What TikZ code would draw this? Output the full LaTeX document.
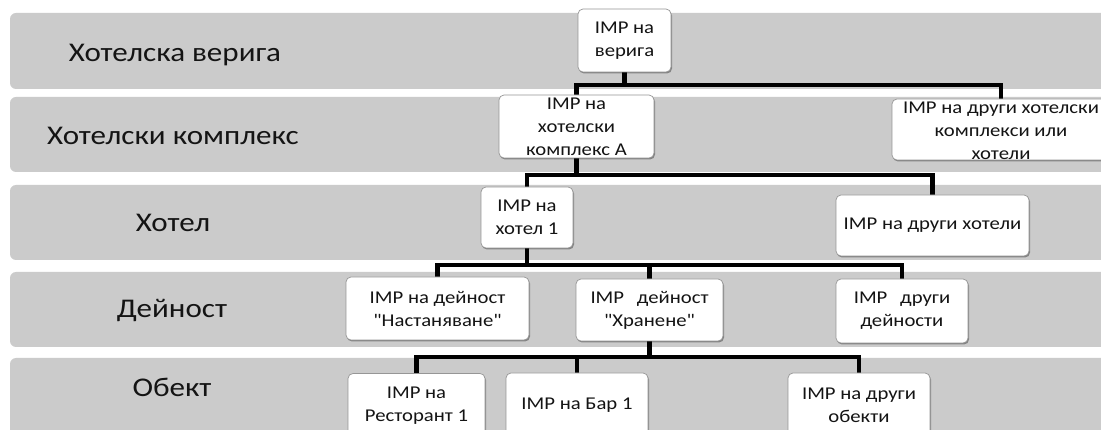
\documentclass[tikz,border=0pt]{standalone}
\usepackage{fontspec}
\setmainfont{Carlito}[FakeStretch=1.15]
\newfontfamily\cf{Carlito}[FakeStretch=1.15]
\usetikzlibrary{shadows}
\definecolor{bandgray}{RGB}{203,203,203}
\definecolor{boxline}{RGB}{150,150,150}
\definecolor{txt}{RGB}{20,20,20}
\pgfdeclarelayer{bands}
\pgfdeclarelayer{lines}
\pgfsetlayers{bands,lines,main}
\begin{document}
\begin{tikzpicture}[x=1pt,y=-1pt,
  band/.style={fill=bandgray, rounded corners=6pt},
  lbl/.style={anchor=base, font=\cf\fontsize{27}{32}\selectfont, text=txt, inner sep=0pt},
  boxtext/.style={align=center, font=\cf\fontsize{18}{23}\selectfont, text=txt, inner sep=0pt},
  imp/.style={boxtext, draw=boxline, line width=0.7pt, fill=white, rounded corners=5pt,
    drop shadow={shadow xshift=1pt, shadow yshift=-1.5pt, opacity=0.35, fill=black}},
  conn/.style={line width=4.3pt, black}]
\useasboundingbox (0,0) rectangle (1101,430);
\clip (0,0) rectangle (1101,430);

% bands
\begin{pgfonlayer}{bands}
\clip (0,0) rectangle (1101,430);
\fill[white] (0,0) rectangle (1101,430);
\path[band] (10,13) rectangle (1120,89);
\path[band] (10,97) rectangle (1120,172);
\path[band] (10,185) rectangle (1120,260);
\path[band] (10,272) rectangle (1120,347);
\path[band] (10,358) rectangle (1120,450);
\end{pgfonlayer}

% band labels
\node[lbl] (L1) at (175,62) {Хотелска верига};
\node[lbl] (L2) at (173,145) {Хотелски комплекс};
\node[lbl] (L3) at (173,232) {Хотел};
\node[lbl] (L4) at (172,318) {Дейност};
\node[lbl] (L5) at (172,396) {Обект};

% boxes
\node[imp, minimum width=93pt, minimum height=63pt] (A) at (624.5,40.5) {IMP на\\верига};
\node[imp, minimum width=155pt, minimum height=63pt] (B) at (576.5,126.5) {IMP на\\хотелски\\комплекс А};
\node[imp, minimum width=218pt, minimum height=61pt] (C) at (1001,129.5) {};
\begin{scope}
\clip[rounded corners=5pt] (C.north west) rectangle (C.south east);
\node[boxtext] (Ct) at (1001,131) {IMP на други хотелски\\комплекси или\\хотели};
\end{scope}
\node[imp, minimum width=92pt, minimum height=61pt] (D) at (527,217.5) {IMP на\\хотел 1};
\node[imp, minimum width=193pt, minimum height=61pt] (E) at (932.5,225.5) {IMP на други хотели};
\node[imp, minimum width=183pt, minimum height=63pt] (F) at (437.5,308.5) {IMP на дейност\\"Настаняване"};
\node[imp, minimum width=147pt, minimum height=62pt] (G) at (649.5,310) {IMP\hspace{0.45em} дейност\\"Хранене"};
\node[imp, minimum width=132pt, minimum height=64pt] (H) at (902,311) {IMP\hspace{0.45em} други\\дейности};
\node[imp, minimum width=137pt, minimum height=64pt] (I) at (416.5,405.5) {IMP на\\Ресторант 1};
\node[imp, minimum width=142pt, minimum height=64pt] (J) at (577,405) {IMP на Бар 1};
\node[imp, minimum width=142pt, minimum height=64pt] (K) at (859,405) {IMP на други\\обекти};

% connectors
\coordinate (h1) at (0,85);
\coordinate (h2) at (0,175);
\coordinate (h3) at (0,265);
\coordinate (h4) at (0,357);
\begin{pgfonlayer}{lines}
\clip (0,0) rectangle (1101,430);
\draw[conn] (A.south) -- (A.south |- h1) -| (B.north);
\draw[conn] (A.south |- h1) -| (C.north);
\draw[conn] (B.south) -- (B.south |- h2) -| (D.north);
\draw[conn] (B.south |- h2) -| (E.north);
\draw[conn] (D.south) -- (D.south |- h3) -| (F.north);
\draw[conn] (D.south |- h3) -| (H.north);
\draw[conn] (G.north |- h3) -- (G.north);
\draw[conn] (G.south) -- (G.south |- h4) -| (I.north);
\draw[conn] (G.south |- h4) -| (K.north);
\draw[conn] (J.north |- h4) -- (J.north);
\end{pgfonlayer}
\end{tikzpicture}
\end{document}
